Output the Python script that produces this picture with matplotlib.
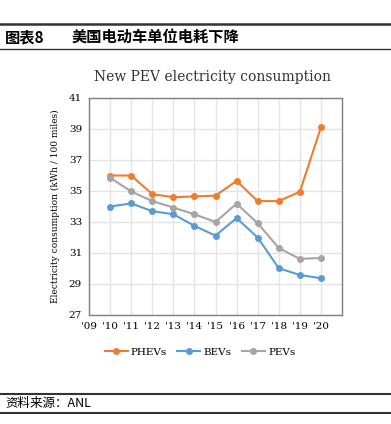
import numpy as np
import matplotlib.pyplot as plt
from matplotlib.lines import Line2D

# datos
years = [2009, 2010, 2011, 2012, 2013, 2014, 2015, 2016, 2017, 2018, 2019, 2020]
year_labels = ["'09", "'10", "'11", "'12", "'13", "'14", "'15", "'16", "'17", "'18", "'19", "'20"]
data_years = [2010, 2011, 2012, 2013, 2014, 2015, 2016, 2017, 2018, 2019, 2020]
phev = [36.0, 36.0, 34.8, 34.6, 34.65, 34.7, 35.65, 34.35, 34.35, 34.95, 39.1]
bev = [34.0, 34.2, 33.7, 33.5, 32.75, 32.12, 33.25, 32.0, 30.02, 29.58, 29.37]
pev = [35.86, 34.97, 34.35, 33.93, 33.5, 33.0, 34.18, 32.92, 31.32, 30.62, 30.68]
y_ticks = [27, 29, 31, 33, 35, 37, 39, 41]

serif = 'DejaVu Serif'
cjk = ['Noto Sans CJK SC', 'DejaVu Sans']

fig = plt.figure(figsize=(3.91, 4.24), dpi=100)
ax = fig.add_axes([89 / 391, 1 - 315 / 424, (342 - 89) / 391, (315 - 98) / 424])

ax.plot(data_years, phev, color='#ED7D31', lw=1.5, marker='o', ms=4, label='PHEVs')
ax.plot(data_years, bev, color='#5B9BD5', lw=1.5, marker='o', ms=4, label='BEVs')
ax.plot(data_years, pev, color='#A5A5A5', lw=1.5, marker='o', ms=4, label='PEVs')

ax.set_xlim(2009, 2021)
ax.set_ylim(27, 41)
ax.set_xticks(years)
ax.set_xticklabels(year_labels, fontfamily=serif, fontsize=7.5)
ax.set_yticks(y_ticks)
ax.set_yticklabels([str(v) for v in y_ticks], fontfamily=serif, fontsize=7.5)
ax.tick_params(length=0, pad=5)
ax.grid(True, color='#e4e4e4', lw=1)
ax.set_axisbelow(True)
for s in ax.spines.values():
    s.set_color('#7f7f7f')
    s.set_linewidth(1)
ax.set_ylabel('Electricity consumption (kWh / 100 miles)', fontfamily=serif, fontsize=6.5, labelpad=6)

fig.text(212 / 391, 1 - 77 / 424, 'New PEV electricity consumption', fontfamily=serif,
         fontsize=10, ha='center', va='center', color='#333333')

leg = fig.legend(loc='center', bbox_to_anchor=(200 / 391, 1 - 352 / 424), ncol=3, frameon=False,
                 prop={'family': serif, 'size': 7.5}, handlelength=2.2, columnspacing=1.0, handletextpad=0.3)

# cabecera y pie
fig.add_artist(Line2D([0, 1], [1 - 24 / 424] * 2, color='#333333', lw=1.8))
fig.add_artist(Line2D([0, 1], [1 - 49 / 424] * 2, color='#333333', lw=1.0))
fig.text(5 / 391, 1 - 37 / 424, '图表8', family=cjk, fontsize=11, fontweight='bold', va='center')
fig.text(72 / 391, 1 - 37 / 424, '美国电动车单位电耗下降', family=cjk, fontsize=11, fontweight='bold', va='center')
fig.add_artist(Line2D([0, 1], [1 - 394 / 424] * 2, color='#333333', lw=1.5))
fig.add_artist(Line2D([0, 1], [1 - 413 / 424] * 2, color='#333333', lw=1.5))
fig.text(5 / 391, 1 - 404 / 424, '资料来源：ANL', family=cjk, fontsize=9, style='italic', va='center')

fig.savefig('out.png', dpi=100)
